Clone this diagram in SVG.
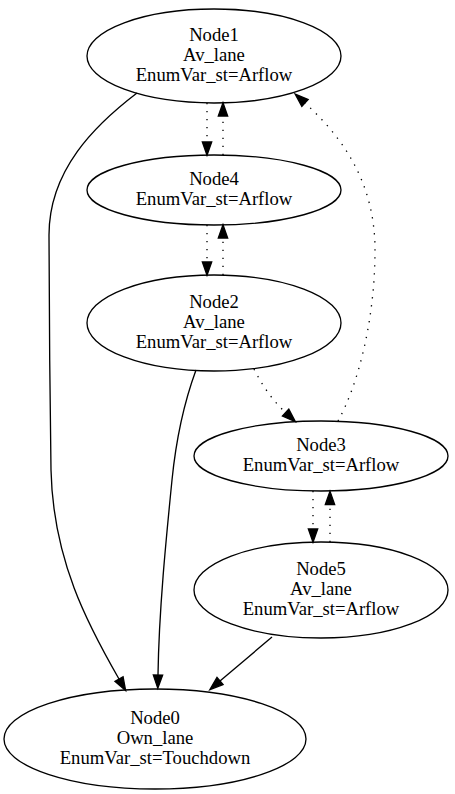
<svg xmlns="http://www.w3.org/2000/svg" width="455" height="794" viewBox="0 0 455 794" font-family="'Liberation Serif', 'Times New Roman', serif">
<defs>
<style>
.node ellipse{fill:none;stroke:#000;stroke-width:1.33}
.node text{font-family:'Liberation Serif','Times New Roman',serif;font-size:18.67px;fill:#000;text-anchor:middle}
.edge{fill:none;stroke:#000;stroke-width:1.33;marker-end:url(#arrow)}
.dot{stroke-dasharray:1.33,6.67}
</style>
<marker id="arrow" markerUnits="userSpaceOnUse" markerWidth="16" markerHeight="12" refX="0" refY="4.67" orient="auto" overflow="visible">
<path d="M0,0 L13.3,4.67 L0,9.33 Z" fill="#000" stroke="#000" stroke-width="1.33" stroke-dasharray="none"/>
</marker>
</defs>
<rect width="455" height="794" fill="#fff"/>
<g id="edges">
<path class="edge" d="M137,93 C95,125 49,170 49,235 C49,300 50,400 51,470 C53,560 88,625 119,679"/>
<path class="edge" d="M196,370 C185,400 176,440 172,480 C166,540 159,610 158,675"/>
<path class="edge" d="M272,637 L220,681"/>
<path class="edge dot" d="M207,103 L207,142"/>
<path class="edge dot" d="M223,155 L223,116"/>
<path class="edge dot" d="M207,225 L207,262"/>
<path class="edge dot" d="M223,275 L223,238"/>
<path class="edge dot" d="M254,369 C262,385 272,400 285.6,412.6"/>
<path class="edge dot" d="M338,421 C358,385 375,320 375,250 C375,180 340,135 305,103"/>
<path class="edge dot" d="M313,491 L313,529"/>
<path class="edge dot" d="M330,542 L330,504.5"/>
</g>
<g id="node1" class="node">
<ellipse cx="214" cy="56" rx="127" ry="47"/>
<text x="214" y="41">Node1</text>
<text x="214" y="61">Av_lane</text>
<text x="214" y="81">EnumVar_st=Arflow</text>
</g>
<g id="node4" class="node">
<ellipse cx="214" cy="190" rx="127" ry="35"/>
<text x="214" y="185">Node4</text>
<text x="214" y="205">EnumVar_st=Arflow</text>
</g>
<g id="node2" class="node">
<ellipse cx="214" cy="323" rx="127" ry="48"/>
<text x="214" y="308">Node2</text>
<text x="214" y="328">Av_lane</text>
<text x="214" y="348">EnumVar_st=Arflow</text>
</g>
<g id="node3" class="node">
<ellipse cx="321" cy="456" rx="127" ry="35"/>
<text x="321" y="451">Node3</text>
<text x="321" y="471">EnumVar_st=Arflow</text>
</g>
<g id="node5" class="node">
<ellipse cx="321" cy="590" rx="127" ry="48"/>
<text x="321" y="575">Node5</text>
<text x="321" y="595">Av_lane</text>
<text x="321" y="615">EnumVar_st=Arflow</text>
</g>
<g id="node0" class="node">
<ellipse cx="155" cy="739" rx="151" ry="50"/>
<text x="155" y="724">Node0</text>
<text x="155" y="744">Own_lane</text>
<text x="155" y="764">EnumVar_st=Touchdown</text>
</g>
</svg>
